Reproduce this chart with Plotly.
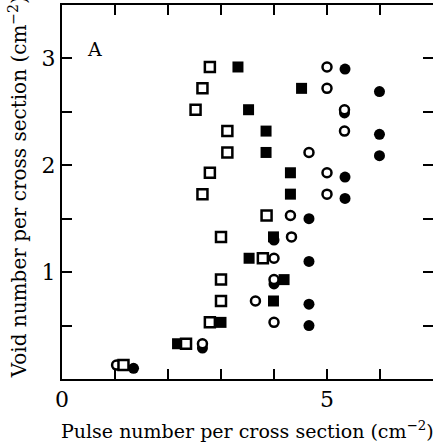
import plotly.graph_objects as go

# Open squares
osq_x = [2.79, 2.65, 2.52, 3.12, 3.12, 2.79, 2.65, 3.86, 3.00, 3.79, 3.00, 3.00, 2.79, 2.34, 1.16]
osq_y = [2.92, 2.72, 2.52, 2.32, 2.12, 1.93, 1.73, 1.53, 1.33, 1.13, 0.93, 0.73, 0.53, 0.33, 0.13]
# Filled squares
fsq_x = [3.32, 4.52, 3.52, 3.85, 3.85, 4.31, 4.31, 3.99, 3.53, 4.19, 3.99, 3.00, 2.18]
fsq_y = [2.92, 2.72, 2.52, 2.32, 2.12, 1.93, 1.73, 1.33, 1.13, 0.93, 0.73, 0.53, 0.33]
# Open circles
oci_x = [5.00, 5.00, 5.33, 5.33, 4.66, 5.00, 5.00, 4.31, 4.33, 4.00, 4.00, 3.65, 4.00, 2.65, 1.03]
oci_y = [2.92, 2.72, 2.52, 2.32, 2.12, 1.93, 1.73, 1.53, 1.33, 1.13, 0.93, 0.73, 0.53, 0.33, 0.13]
# Filled circles
fci_x = [5.34, 5.99, 5.33, 5.99, 5.99, 5.34, 5.34, 4.66, 4.00, 4.66, 4.00, 4.66, 4.66, 2.65, 1.35]
fci_y = [2.90, 2.69, 2.49, 2.29, 2.09, 1.89, 1.69, 1.50, 1.30, 1.10, 0.89, 0.70, 0.50, 0.29, 0.10]

x_tickvals = [0, 1, 2, 3, 4, 5, 6, 7]
x_ticktext = ["0", "", "", "", "", "5", "", ""]
y_tickvals = [0.5, 1, 1.5, 2, 2.5, 3]
y_ticktext = ["", "1", "", "2", "", "3"]

FONT = "DejaVu Serif"

fig = go.Figure()
fig.add_trace(go.Scatter(x=fci_x, y=fci_y, mode="markers",
                         marker=dict(symbol="circle", size=11, color="black",
                                     line=dict(width=0))))
fig.add_trace(go.Scatter(x=oci_x, y=oci_y, mode="markers",
                         marker=dict(symbol="circle", size=9, color="white",
                                     line=dict(width=2.5, color="black"))))
fig.add_trace(go.Scatter(x=fsq_x, y=fsq_y, mode="markers",
                         marker=dict(symbol="square", size=11, color="black",
                                     line=dict(width=0))))
fig.add_trace(go.Scatter(x=osq_x, y=osq_y, mode="markers",
                         marker=dict(symbol="square", size=10, color="white",
                                     line=dict(width=2.5, color="black"))))

axis_common = dict(showgrid=False, zeroline=False, showline=True, linecolor="black",
                   linewidth=2, mirror="ticks", ticks="inside", ticklen=10,
                   tickwidth=2, tickcolor="black",
                   tickfont=dict(family=FONT, size=22, color="black"))

fig.update_xaxes(range=[0, 7], tickmode="array", tickvals=x_tickvals,
                 ticktext=x_ticktext, **axis_common)
fig.update_yaxes(range=[0, 3.5], tickmode="array", tickvals=y_tickvals,
                 ticktext=y_ticktext, **axis_common)

fig.add_annotation(x=0.61, y=3.09, xref="x", yref="y", text="A", showarrow=False,
                   font=dict(family=FONT, size=19, color="black"))
fig.add_annotation(x=-0.008, y=-0.136, xref="paper", yref="paper",
                   xanchor="left", yanchor="middle", showarrow=False,
                   text="Pulse number per cross section (cm<sup>−2</sup>)",
                   font=dict(family=FONT, size=19, color="black"))
fig.add_annotation(x=-0.118, y=-0.003, xref="paper", yref="paper",
                   xanchor="center", yanchor="bottom", showarrow=False, textangle=-90,
                   text="Void number per cross section (cm<sup>−2</sup>)",
                   font=dict(family=FONT, size=20, color="black"))

fig.update_layout(width=435, height=442, showlegend=False,
                  margin=dict(l=62, r=0, t=5, b=63),
                  plot_bgcolor="white", paper_bgcolor="white")

fig.write_html("out.html", config={"displayModeBar": False},
               post_script="document.body.style.margin='0';document.body.style.overflow='hidden';")
